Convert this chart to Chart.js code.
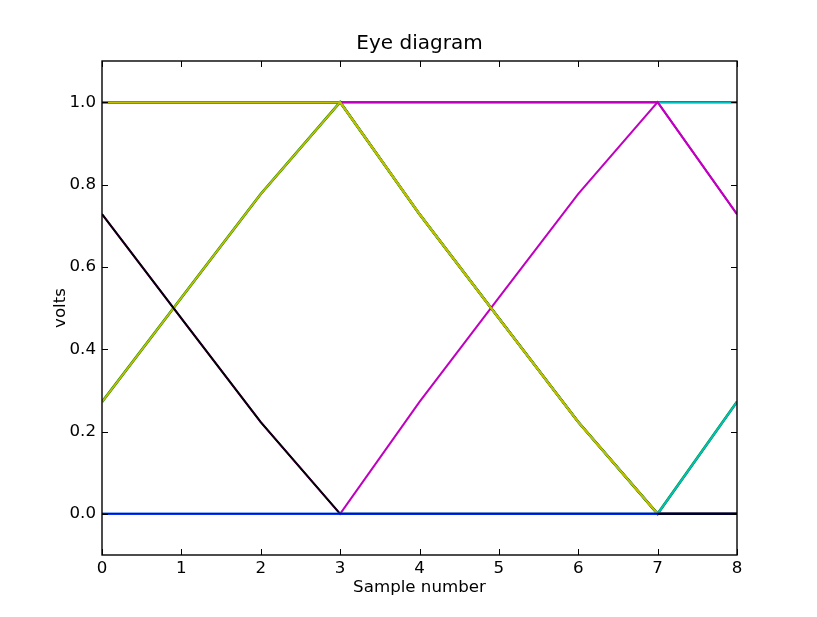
<!DOCTYPE html>
<html>
<head>
<meta charset="utf-8">
<script src="https://cdn.jsdelivr.net/npm/chart.js@4.4.1/dist/chart.umd.min.js"></script>
<style>
  html, body { margin: 0; padding: 0; background: #ffffff; }
  #wrap { width: 817px; height: 617px; }
</style>
</head>
<body>
<div id="wrap"><canvas id="c" width="817" height="617"></canvas></div>
<script>
// ---- data ----
const samples = [0, 1, 2, 3, 4, 5, 6, 7, 8];
const xTicks = [0, 1, 2, 3, 4, 5, 6, 7, 8];
const yTicks = [0.0, 0.2, 0.4, 0.6, 0.8, 1.0];

// eye traces (volts at each sample)
const traceLow      = [0, 0, 0, 0, 0, 0, 0, 0, 0];
const traceLowRise  = [0, 0, 0, 0, 0, 0, 0, 0, 0.272];
const traceFallLow  = [0.728, 0.475, 0.223, 0, 0, 0, 0, 0, 0];
const traceRiseFall = [0.272, 0.525, 0.777, 1, 0.728, 0.475, 0.223, 0, 0];
const traceHighFall = [1, 1, 1, 1, 0.728, 0.475, 0.223, 0, 0];
const traceRiseFallRise = [0.272, 0.525, 0.777, 1, 0.728, 0.475, 0.223, 0, 0.272];
const traceFallRiseFall = [0.728, 0.475, 0.223, 0, 0.272, 0.525, 0.777, 1, 0.728];
const traceHighFallEnd = [1, 1, 1, 1, 1, 1, 1, 1, 0.728];
const traceHigh     = [1, 1, 1, 1, 1, 1, 1, 1, 1];
const traceTailLow  = [null, null, null, null, null, null, null, 0, 0];

// matplotlib classic colours
const C = { b: '#0000ff', g: '#008000', r: '#ff0000', c: '#00bfbf', m: '#bf00bf', y: '#bfbf00', k: '#000000' };

// first dataset is drawn on top: [values, colour, width]
const series = [
  [traceTailLow, C.k, 2],
  [traceLow, C.b, 2],
  [traceLowRise, C.c, 2],
  [traceFallLow, C.k, 2],
  [traceRiseFall, C.y, 1.8],
  [traceHighFall, C.y, 2],
  [traceRiseFallRise, C.g, 2.6],
  [traceHighFall, C.k, 2.2],
  [traceFallRiseFall, C.m, 2],
  [traceHighFallEnd, C.m, 2],
  [traceHigh, C.c, 2],
  [traceHigh, C.k, 2.4]
];

const datasets = series.map(([vals, col, w]) => ({
  data: samples.map((x, i) => ({ x: x, y: vals[i] })),
  borderColor: col,
  backgroundColor: col,
  borderWidth: w,
  pointRadius: 0,
  tension: 0,
  fill: false,
  spanGaps: false,
  yAxisID: 'y'
}));

const FONT = "'DejaVu Sans', sans-serif";

const framePlugin = {
  id: 'frame',
  afterDraw(chart) {
    const ctx = chart.ctx;
    const a = chart.chartArea;
    const xs = chart.scales.x, ys = chart.scales.y;
    const L = 6;
    ctx.save();
    ctx.strokeStyle = '#000';
    ctx.lineWidth = 1;
    ctx.beginPath();
    xs.ticks.forEach(t => {
      const px = Math.round(xs.getPixelForValue(t.value)) + 0.5;
      ctx.moveTo(px, a.bottom); ctx.lineTo(px, a.bottom - L);
      ctx.moveTo(px, a.top); ctx.lineTo(px, a.top + L);
    });
    ys.ticks.forEach(t => {
      const py = Math.round(ys.getPixelForValue(t.value)) + 0.5;
      ctx.moveTo(a.left, py); ctx.lineTo(a.left + L, py);
      ctx.moveTo(a.right, py); ctx.lineTo(a.right - L, py);
    });
    ctx.stroke();
    ctx.lineWidth = 1.4;
    ctx.strokeRect(a.left, a.top, a.right - a.left, a.bottom - a.top);
    ctx.restore();
  }
};

new Chart(document.getElementById('c'), {
  type: 'line',
  data: { datasets: datasets },
  options: {
    responsive: false,
    animation: false,
    devicePixelRatio: 1,
    layout: { padding: { left: 22, right: 0, top: 0, bottom: 0 } },
    plugins: {
      legend: { display: false },
      tooltip: { enabled: false },
      title: {
        display: true,
        text: 'Eye diagram',
        color: '#000',
        font: { family: FONT, size: 20, weight: 'normal', lineHeight: 1 },
        padding: { top: 34, bottom: 7 }
      }
    },
    scales: {
      x: {
        type: 'linear',
        min: 0, max: 8,
        afterBuildTicks: s => { s.ticks = xTicks.map(v => ({ value: v })); },
        afterFit: s => { s.height = 62; },
        grid: { display: false, drawTicks: false },
        border: { display: false },
        ticks: {
          color: '#000',
          font: { family: FONT, size: 16.67 },
          padding: 4,
          maxRotation: 0,
          callback: v => String(v)
        },
        title: {
          display: true,
          text: 'Sample number',
          color: '#000',
          font: { family: FONT, size: 16.67, lineHeight: 1 },
          padding: { top: 0, bottom: 21 }
        }
      },
      y: {
        type: 'linear',
        position: 'left',
        min: -0.1, max: 1.1,
        afterBuildTicks: s => { s.ticks = yTicks.map(v => ({ value: v })); },
        afterFit: s => { s.width = 80; },
        grid: { display: false, drawTicks: false },
        border: { display: false },
        ticks: {
          color: '#000',
          font: { family: FONT, size: 16.67 },
          padding: 6,
          callback: v => Number(v).toFixed(1)
        },
        title: {
          display: true,
          text: 'volts',
          color: '#000',
          font: { family: FONT, size: 16.67, lineHeight: 1 },
          padding: { top: 30, bottom: 0 }
        }
      },
      yRight: {
        type: 'linear',
        position: 'right',
        min: -0.1, max: 1.1,
        afterFit: s => { s.width = 80; },
        grid: { display: false, drawTicks: false },
        border: { display: false },
        ticks: { display: false },
        title: { display: false }
      }
    }
  },
  plugins: [framePlugin]
});
</script>
</body>
</html>
